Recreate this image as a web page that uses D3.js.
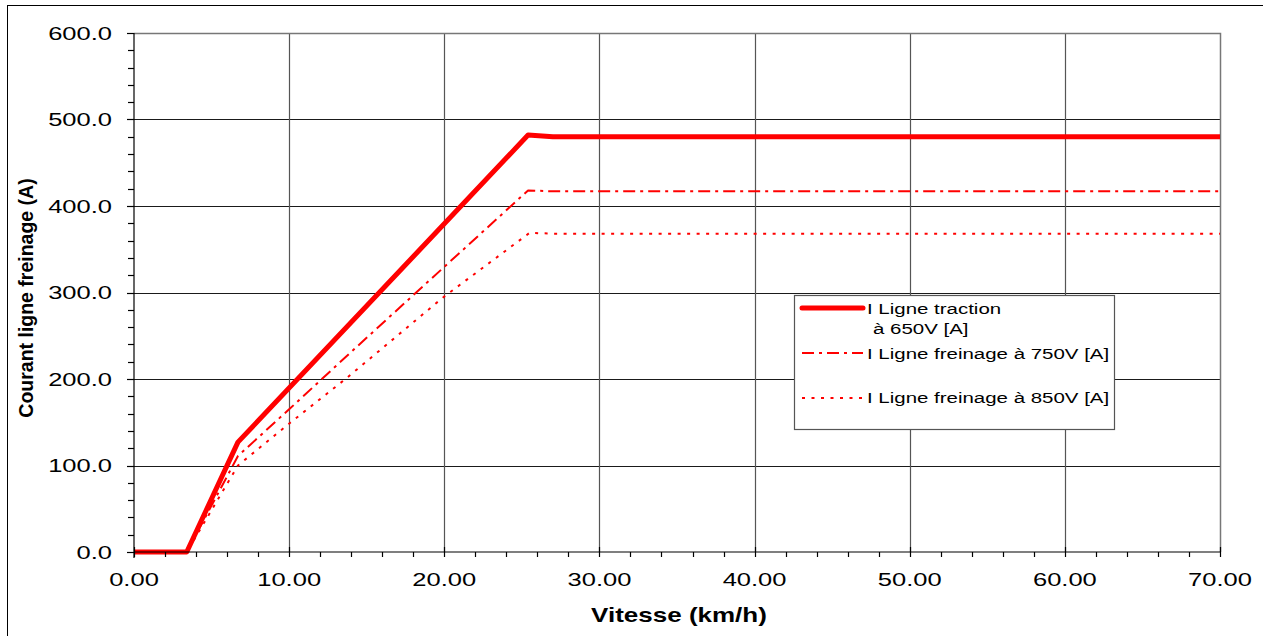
<!DOCTYPE html>
<html>
<head>
<meta charset="utf-8">
<script src="https://cdn.jsdelivr.net/npm/d3@7"></script>
<style>
  html, body { margin: 0; padding: 0; background: #fff; }
  svg { display: block; }
  text { font-family: "Liberation Sans", Arial, sans-serif; fill: #000; }
</style>
</head>
<body>
<svg id="chart" width="1263" height="636"></svg>
<script>
// Vitesse (km/h) / courant ligne (A) pour chaque courbe
const tractionSpeed   = [0, 3.4, 6.7, 25.4, 27.0, 70];
const tractionCurrent = [0, 0, 127, 482, 480, 480];

const brake750Speed   = [0, 3.4, 6.7, 10.0, 14.1, 19.9, 25.4, 27.0, 70];
const brake750Current = [0, 0, 111, 165, 233, 328, 418, 417, 417];

const brake850Speed   = [0, 3.4, 6.7, 9.9, 13.7, 19.9, 25.5, 27.0, 70];
const brake850Current = [0, 0, 100, 147, 201, 294, 369, 368, 368];

const seriesNames = [
  ["I Ligne traction", "à 650V [A]"],
  ["I Ligne freinage à 750V [A]"],
  ["I Ligne freinage à 850V [A]"]
];

const xTicks = [0, 10, 20, 30, 40, 50, 60, 70];
const yTicks = [0, 100, 200, 300, 400, 500, 600];
const xTickLabels = xTicks.map(v => v.toFixed(2));
const yTickLabels = yTicks.map(v => v.toFixed(1));

const xTitle = "Vitesse (km/h)";
const yTitle = "Courant ligne freinage (A)";

// ---- layout ----
const svg = d3.select("#chart");
const plotLeft = 134, plotRight = 1220, plotTop = 33, plotBottom = 552;

const x = d3.scaleLinear().domain([0, 70]).range([plotLeft, plotRight]);
const y = d3.scaleLinear().domain([0, 600]).range([plotBottom, plotTop]);

// outer frame of the chart object
svg.append("rect")
  .attr("x", 7.5).attr("y", 5.5).attr("width", 1300).attr("height", 700)
  .attr("fill", "#fff").attr("stroke", "#000").attr("stroke-width", 1);

// gridlines
const grid = svg.append("g");
grid.selectAll("line.h").data(yTicks.filter(v => v > 0 && v < 600)).join("line")
  .attr("x1", plotLeft).attr("x2", plotRight)
  .attr("y1", d => Math.round(y(d)) + 0.5).attr("y2", d => Math.round(y(d)) + 0.5)
  .attr("stroke", "#1a1a1a").attr("stroke-width", 1);
grid.selectAll("line.v").data(xTicks.filter(v => v > 0 && v < 70)).join("line")
  .attr("y1", plotTop).attr("y2", plotBottom)
  .attr("x1", d => Math.round(x(d)) + 0.5).attr("x2", d => Math.round(x(d)) + 0.5)
  .attr("stroke", "#555").attr("stroke-width", 1.2);

// plot border (top / right)
svg.append("path")
  .attr("d", `M${plotLeft},${plotTop + 0.5}H${plotRight + 0.5}V${plotBottom}`)
  .attr("fill", "none").attr("stroke", "#777").attr("stroke-width", 1.5);

// series
const line = d3.line().x(d => x(d[0])).y(d => y(d[1]));
const zip = (a, b) => a.map((v, i) => [v, b[i]]);

const styles = [
  { width: 5, dash: null },
  { width: 2, dash: "12,5,3,5" },
  { width: 2, dash: "3,6.5" }
];
const data = [
  zip(tractionSpeed, tractionCurrent),
  zip(brake750Speed, brake750Current),
  zip(brake850Speed, brake850Current)
];

svg.append("g").selectAll("path").data(data).join("path")
  .attr("d", line)
  .attr("fill", "none")
  .attr("stroke", "#ff0000")
  .attr("stroke-width", (d, i) => styles[i].width)
  .attr("stroke-dasharray", (d, i) => styles[i].dash)
  .attr("stroke-linejoin", "round");

// axes
const axes = svg.append("g").attr("stroke", "#000").attr("stroke-width", 1.2);
axes.append("line").attr("x1", plotLeft).attr("x2", plotLeft).attr("y1", plotTop).attr("y2", plotBottom + 6);
axes.append("line").attr("x1", plotLeft).attr("x2", plotRight).attr("y1", plotBottom).attr("y2", plotBottom);

// y ticks: major every 100, minor every 20
d3.range(0, 601, 20).forEach(v => {
  axes.append("line")
    .attr("x1", v % 100 === 0 ? plotLeft - 7 : plotLeft - 6).attr("x2", plotLeft)
    .attr("y1", Math.round(y(v)) + 0.5).attr("y2", Math.round(y(v)) + 0.5);
});
// x ticks: major every 10, minor every 2
d3.range(0, 70.001, 2).forEach(v => {
  const major = Math.abs(v % 10) < 1e-9;
  axes.append("line")
    .attr("x1", Math.round(x(v)) + 0.5).attr("x2", Math.round(x(v)) + 0.5)
    .attr("y1", major ? plotBottom - 5 : plotBottom).attr("y2", plotBottom + 5);
});

// text helper with horizontal stretch
function label(g, str, tx, ty, opts) {
  const o = Object.assign({ size: 18.5, sx: 1.38, anchor: "middle", weight: "normal", rotate: 0 }, opts);
  return g.append("text")
    .attr("transform", `translate(${tx},${ty}) scale(${o.sx},1)` + (o.rotate ? ` rotate(${o.rotate})` : ""))
    .attr("text-anchor", o.anchor)
    .attr("font-size", o.size)
    .attr("font-weight", o.weight)
    .text(str);
}

const labels = svg.append("g");
yTicks.forEach((v, i) => label(labels, yTickLabels[i], 112, y(v) + 6.5, { anchor: "end" }));
xTicks.forEach((v, i) => label(labels, xTickLabels[i], x(v), 586, {}));

label(labels, xTitle, (plotLeft + plotRight) / 2 + 2, 622, { size: 20, sx: 1.3, weight: "bold" });
label(labels, yTitle, 33, 298, { size: 19.5, sx: 1.05, weight: "bold", rotate: -90 });

// legend
const lg = svg.append("g");
lg.append("rect")
  .attr("x", 794.5).attr("y", 295.5).attr("width", 320).attr("height", 134)
  .attr("fill", "#fff").attr("stroke", "#555").attr("stroke-width", 1.2);

const rowY = [308, 353, 398];
const textY = [[314, 334], [359], [403]];
const textX = [[867, 873], [867], [867]];
rowY.forEach((ry, i) => {
  lg.append("line")
    .attr("x1", 802).attr("x2", 863).attr("y1", ry).attr("y2", ry)
    .attr("stroke", "#ff0000")
    .attr("stroke-width", styles[i].width)
    .attr("stroke-dasharray", styles[i].dash)
    .attr("stroke-linecap", i === 0 ? "round" : "butt");
  seriesNames[i].forEach((s, j) => {
    label(lg, s, textX[i][j], textY[i][j], { size: 15.5, sx: 1.32, anchor: "start" });
  });
});
</script>
</body>
</html>
